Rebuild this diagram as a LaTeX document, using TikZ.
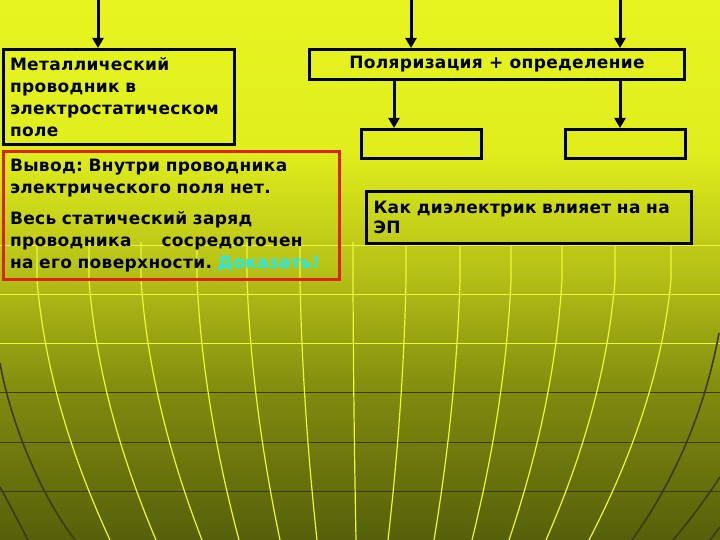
\documentclass[tikz,border=0pt]{standalone}
\usepackage{fontspec}
\setmainfont{DejaVu Sans}[LetterSpace=2]
\usepackage{tikz}
\usetikzlibrary{positioning}
\usetikzlibrary{arrows.meta}
\frenchspacing

\definecolor{bgtop}{RGB}{231,244,32}
\definecolor{bgupper}{RGB}{224,238,28}
\definecolor{bgmid}{RGB}{178,189,22}
\definecolor{bglow}{RGB}{126,136,14}
\definecolor{bgbot}{RGB}{86,96,10}
\definecolor{gridhi}{RGB}{236,248,60}
\definecolor{griddk}{RGB}{58,60,16}
\definecolor{framered}{RGB}{222,34,20}
\definecolor{proofcyan}{RGB}{30,235,240}

\pgfdeclareverticalshading{slidebg}{100bp}{color(0bp)=(bgbot); color(25bp)=(bgbot);
  color(37.96bp)=(bglow); color(49.07bp)=(bgmid); color(61.1bp)=(bgupper);
  color(75bp)=(bgtop); color(100bp)=(bgtop)}

\newcommand{\slidetext}{\fontsize{17}{22}\selectfont\bfseries}

\begin{document}
\begin{tikzpicture}[x=1pt,y=-1pt,
    box/.style={draw=black,line width=3pt,inner sep=0pt,anchor=north west,font=\slidetext},
    arr/.style={line width=3pt,-{Triangle[length=10pt,width=11pt]}},
    meridian/.style={gridhi,line width=1.2pt},
    rim/.style={griddk,line width=1.6pt}]
 \useasboundingbox (0,0) rectangle (720,540);
 \shade[shading=slidebg] (0,0) rectangle (720,540);

 \foreach \yy in {245,294,343} \draw[gridhi,line width=1pt] (0,\yy) -- (720,\yy);
 \foreach \yy in {392,442,491} \draw[griddk,line width=1pt] (0,\yy) -- (720,\yy);
 \foreach \t/\b in {37/110,89/156,141/202,197/239,247/280,300/317,353/356,406/388,
   460/434,511/472,562/509,615/546,671/589}
   \draw[meridian] (\t,242) -- (\t,280) .. controls ({\t+0.1*(\b-\t)},367) and ({\t+0.45*(\b-\t)},453) .. (\b,540);
 \draw[rim] (0,363) .. controls (10,420) and (40,495) .. (75,540);
 \draw[rim] (0,487) .. controls (10,505) and (20,525) .. (28,540);
 \draw[rim] (719,333) .. controls (705,410) and (675,480) .. (632,540);
 \draw[rim] (720,477) .. controls (705,500) and (690,520) .. (673,540);
 \draw[rim] (720,527) -- (710,540);

 \node[box,minimum width=231pt,minimum height=95pt,text width=217pt,inner xsep=7pt,align=left] (metal) at (1.5,48)
   {Металлический\\проводник в\\электростатическом\\поле};
 \node[box,minimum width=375pt,minimum height=30pt] (pol) at (308,48)
   {Поляризация + определение};
 \node[box,minimum width=120pt,minimum height=29pt] (sub1) at (360,128) {};
 \node[box,minimum width=120pt,minimum height=29pt] (sub2) at (564,128) {};
 \node[box,minimum width=325pt,minimum height=52pt,text width=311pt,inner xsep=7pt,align=left,
   font=\fontsize{17}{20}\selectfont\bfseries] (diel) at (365,190)
   {Как диэлектрик влияет на на\\ЭП};
 \node[box,draw=framered,minimum width=336pt,minimum height=128pt,text width=322pt,inner xsep=7pt,align=left] (concl) at (1.5,150)
   {Вывод: Внутри проводника\\электрического поля нет.\\[9pt]
    Весь статический заряд\\проводника\hspace*{30pt}сосредоточен\\на его поверхности. \textcolor{proofcyan}{Доказать!}};

 \coordinate (inA) at (98,0);
 \coordinate (inP1) at (411,0);
 \coordinate (inP2) at (620,0);
 \draw[arr] (inA) -- (inA |- metal.north);
 \draw[arr] (inP1) -- (inP1 |- pol.north);
 \draw[arr] (inP2) -- (inP2 |- pol.north);
 \draw[arr] ([xshift=86pt]pol.south west) -- ([xshift=86pt]pol.south west |- sub1.north);
 \draw[arr] ([xshift=312pt]pol.south west) -- ([xshift=312pt]pol.south west |- sub2.north);
\end{tikzpicture}
\end{document}
